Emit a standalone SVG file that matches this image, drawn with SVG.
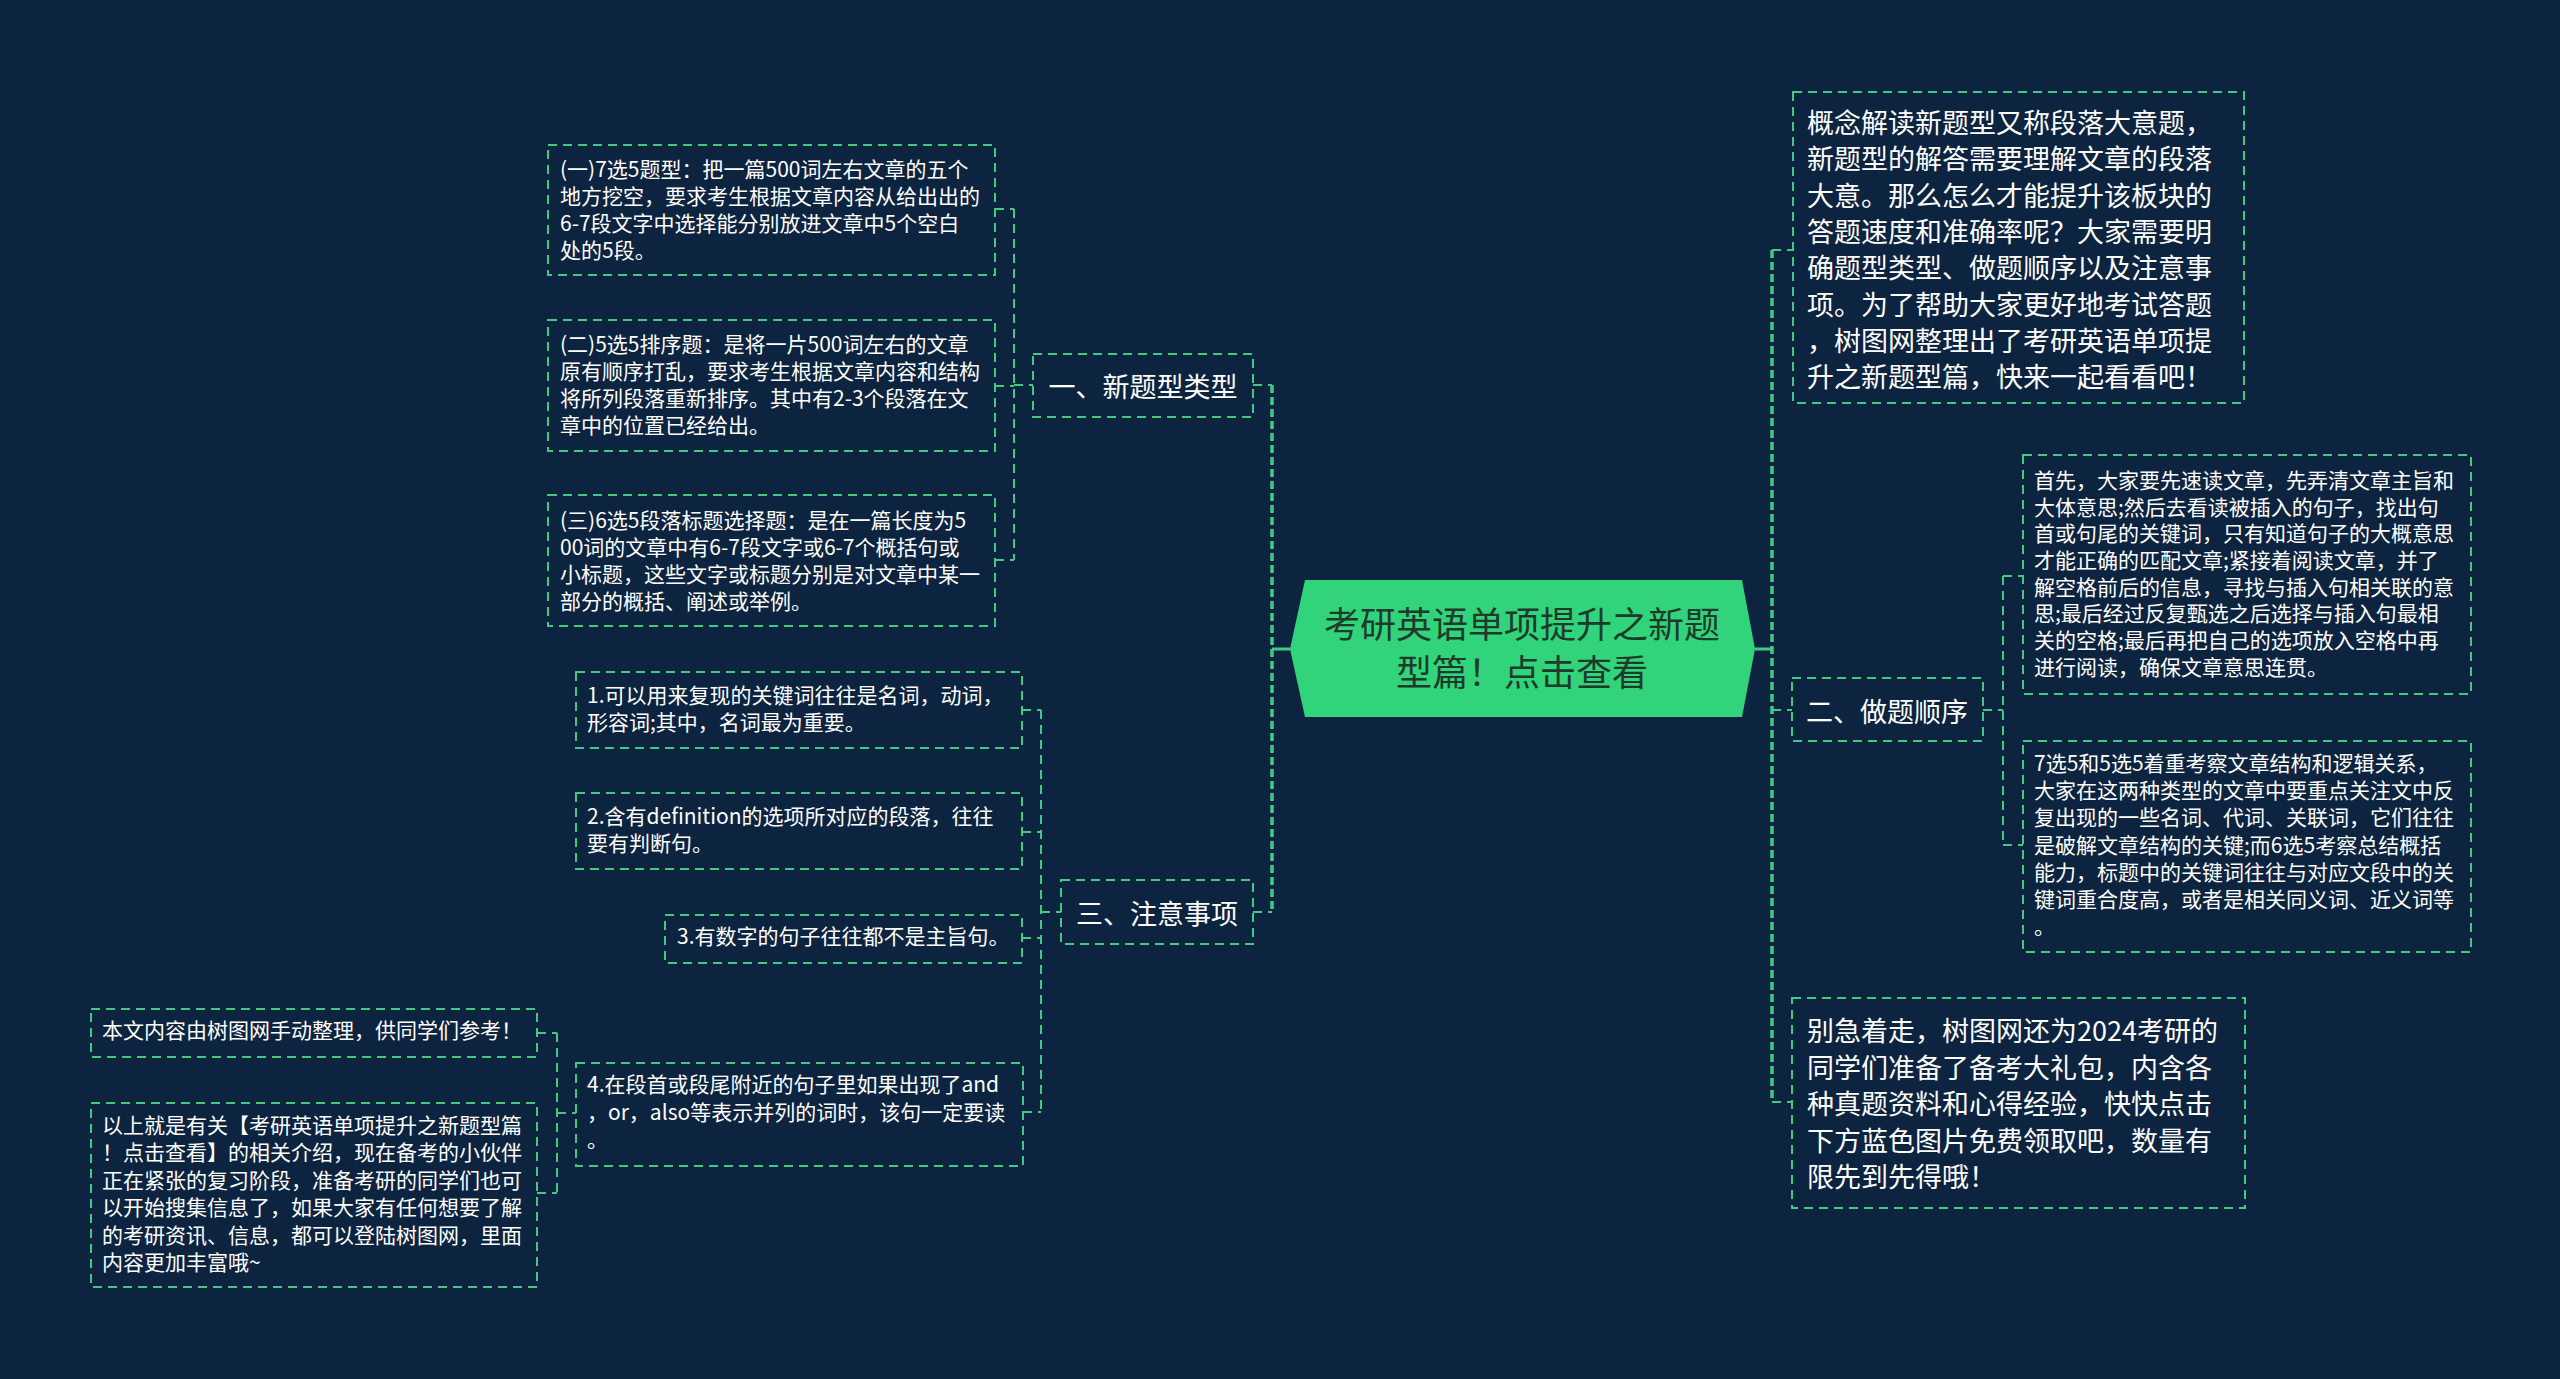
<svg xmlns="http://www.w3.org/2000/svg" width="2560" height="1379" viewBox="0 0 2560 1379">
<style>
  .bg { fill: #0d2441; }
  .box { fill: none; stroke: #3ecb80; stroke-width: 2; stroke-dasharray: 9 6; }
  .trunk { fill: none; stroke: #3ecb80; stroke-width: 3.5; stroke-dasharray: 8 4; }
  .sub { fill: none; stroke: #3ecb80; stroke-width: 2; stroke-dasharray: 9 6; }
  .solid { fill: none; stroke: #3ecb80; stroke-width: 3; }
  .t { font-family: "Noto Sans CJK SC", "Noto Sans", sans-serif; fill: #ffffff; dominant-baseline: central; transform: translate(0px, -4px); }
  .s { font-size: 21px; }
  .m { font-size: 27px; }
  .title { font-family: "Noto Sans CJK SC", "Noto Sans", sans-serif; font-size: 36px; fill: #1d3a2b; dominant-baseline: central; text-anchor: middle; transform: translate(0px, -3px); }
  .t.lab { font-size: 27px; text-anchor: middle; transform: none; }
</style>
<rect class="bg" x="0" y="0" width="2560" height="1379"/>

<g id="connectors">
  <path class="solid" d="M1290,649 H1272"/>
  <path class="trunk" d="M1272,385 V912"/>
  <path class="sub" d="M1253,385 H1272"/>
  <path class="sub" d="M1253,912 H1272"/>
  <path class="solid" d="M1755,649 H1772"/>
  <path class="trunk" d="M1772,250 V1102"/>
  <path class="sub" d="M1772,250 H1792"/>
  <path class="sub" d="M1772,710 H1792"/>
  <path class="sub" d="M1772,1102 H1792"/>
  <path class="sub" d="M1014,209 V560"/>
  <path class="sub" d="M995,209 H1014"/>
  <path class="sub" d="M995,386 H1014"/>
  <path class="sub" d="M995,560 H1014"/>
  <path class="sub" d="M1014,385 H1033"/>
  <path class="sub" d="M1041,710 V1112"/>
  <path class="sub" d="M1022,710 H1041"/>
  <path class="sub" d="M1022,832 H1041"/>
  <path class="sub" d="M1022,938 H1041"/>
  <path class="sub" d="M1023,1112 H1041"/>
  <path class="sub" d="M1041,912 H1061"/>
  <path class="sub" d="M557,1033 V1193"/>
  <path class="sub" d="M537,1033 H557"/>
  <path class="sub" d="M537,1193 H557"/>
  <path class="sub" d="M557,1113 H576"/>
  <path class="sub" d="M2003,576 V845"/>
  <path class="sub" d="M1983,710 H2003"/>
  <path class="sub" d="M2003,576 H2023"/>
  <path class="sub" d="M2003,845 H2023"/>
</g>

<g id="center">
  <polygon points="1305,580 1742,580 1755,649 1742,717 1305,717 1290,649" fill="#31d37b"/>
  <text class="title"><tspan x="1522" y="625">考研英语单项提升之新题</tspan><tspan x="1522" y="673">型篇！点击查看</tspan></text>
</g>

<g id="b1">
  <rect class="box" x="1033" y="354" width="220" height="63"/>
  <text class="t lab" x="1143" y="385">一、新题型类型</text>
</g>
<g id="b1c1">
  <rect class="box" x="548" y="145" width="447" height="130"/>
  <text class="t s"><tspan x="560" y="172">(一)7选5题型：把一篇500词左右文章的五个</tspan><tspan x="560" y="199">地方挖空，要求考生根据文章内容从给出出的</tspan><tspan x="560" y="226">6-7段文字中选择能分别放进文章中5个空白</tspan><tspan x="560" y="253">处的5段。</tspan></text>
</g>
<g id="b1c2">
  <rect class="box" x="548" y="320" width="447" height="131"/>
  <text class="t s"><tspan x="560" y="347">(二)5选5排序题：是将一片500词左右的文章</tspan><tspan x="560" y="374">原有顺序打乱，要求考生根据文章内容和结构</tspan><tspan x="560" y="401">将所列段落重新排序。其中有2-3个段落在文</tspan><tspan x="560" y="428">章中的位置已经给出。</tspan></text>
</g>
<g id="b1c3">
  <rect class="box" x="548" y="495" width="447" height="131"/>
  <text class="t s"><tspan x="560" y="523">(三)6选5段落标题选择题：是在一篇长度为5</tspan><tspan x="560" y="550">00词的文章中有6-7段文字或6-7个概括句或</tspan><tspan x="560" y="577">小标题，这些文字或标题分别是对文章中某一</tspan><tspan x="560" y="604">部分的概括、阐述或举例。</tspan></text>
</g>

<g id="b3">
  <rect class="box" x="1061" y="880" width="192" height="64"/>
  <text class="t lab" x="1157" y="912">三、注意事项</text>
</g>
<g id="b3c1">
  <rect class="box" x="576" y="672" width="446" height="76"/>
  <text class="t s"><tspan x="587" y="698">1.可以用来复现的关键词往往是名词，动词，</tspan><tspan x="587" y="725">形容词;其中，名词最为重要。</tspan></text>
</g>
<g id="b3c2">
  <rect class="box" x="576" y="793" width="446" height="76"/>
  <text class="t s"><tspan x="587" y="819">2.含有definition的选项所对应的段落，往往</tspan><tspan x="587" y="846">要有判断句。</tspan></text>
</g>
<g id="b3c3">
  <rect class="box" x="665" y="915" width="357" height="48"/>
  <text class="t s" x="677" y="939">3.有数字的句子往往都不是主旨句。</text>
</g>
<g id="b3c4">
  <rect class="box" x="576" y="1063" width="447" height="103"/>
  <text class="t s"><tspan x="587" y="1087">4.在段首或段尾附近的句子里如果出现了and</tspan><tspan x="587" y="1115">，or，also等表示并列的词时，该句一定要读</tspan><tspan x="587" y="1142">。</tspan></text>
</g>
<g id="b3c4a">
  <rect class="box" x="91" y="1009" width="446" height="48"/>
  <text class="t s" x="102" y="1033">本文内容由树图网手动整理，供同学们参考！</text>
</g>
<g id="b3c4b">
  <rect class="box" x="91" y="1103" width="446" height="184"/>
  <text class="t s"><tspan x="102" y="1128">以上就是有关【考研英语单项提升之新题型篇</tspan><tspan x="102" y="1155">！点击查看】的相关介绍，现在备考的小伙伴</tspan><tspan x="102" y="1183">正在紧张的复习阶段，准备考研的同学们也可</tspan><tspan x="102" y="1210">以开始搜集信息了，如果大家有任何想要了解</tspan><tspan x="102" y="1238">的考研资讯、信息，都可以登陆树图网，里面</tspan><tspan x="102" y="1265">内容更加丰富哦~</tspan></text>
</g>

<g id="r1">
  <rect class="box" x="1793" y="92" width="451" height="311"/>
  <text class="t m"><tspan x="1807" y="125">概念解读新题型又称段落大意题，</tspan><tspan x="1807" y="161">新题型的解答需要理解文章的段落</tspan><tspan x="1807" y="198">大意。那么怎么才能提升该板块的</tspan><tspan x="1807" y="234">答题速度和准确率呢？大家需要明</tspan><tspan x="1807" y="270">确题型类型、做题顺序以及注意事</tspan><tspan x="1807" y="307">项。为了帮助大家更好地考试答题</tspan><tspan x="1807" y="343">，树图网整理出了考研英语单项提</tspan><tspan x="1807" y="379">升之新题型篇，快来一起看看吧！</tspan></text>
</g>

<g id="b2">
  <rect class="box" x="1792" y="678" width="191" height="63"/>
  <text class="t lab" x="1887" y="710">二、做题顺序</text>
</g>
<g id="b2c1">
  <rect class="box" x="2023" y="455" width="448" height="239"/>
  <text class="t s"><tspan x="2034" y="483">首先，大家要先速读文章，先弄清文章主旨和</tspan><tspan x="2034" y="510">大体意思;然后去看读被插入的句子，找出句</tspan><tspan x="2034" y="536">首或句尾的关键词，只有知道句子的大概意思</tspan><tspan x="2034" y="563">才能正确的匹配文章;紧接着阅读文章，并了</tspan><tspan x="2034" y="590">解空格前后的信息，寻找与插入句相关联的意</tspan><tspan x="2034" y="616">思;最后经过反复甄选之后选择与插入句最相</tspan><tspan x="2034" y="643">关的空格;最后再把自己的选项放入空格中再</tspan><tspan x="2034" y="670">进行阅读，确保文章意思连贯。</tspan></text>
</g>
<g id="b2c2">
  <rect class="box" x="2023" y="741" width="448" height="211"/>
  <text class="t s"><tspan x="2034" y="766">7选5和5选5着重考察文章结构和逻辑关系，</tspan><tspan x="2034" y="793">大家在这两种类型的文章中要重点关注文中反</tspan><tspan x="2034" y="820">复出现的一些名词、代词、关联词，它们往往</tspan><tspan x="2034" y="848">是破解文章结构的关键;而6选5考察总结概括</tspan><tspan x="2034" y="875">能力，标题中的关键词往往与对应文段中的关</tspan><tspan x="2034" y="902">键词重合度高，或者是相关同义词、近义词等</tspan><tspan x="2034" y="929">。</tspan></text>
</g>

<g id="r3">
  <rect class="box" x="1792" y="998" width="453" height="210"/>
  <text class="t m"><tspan x="1807" y="1033">别急着走，树图网还为2024考研的</tspan><tspan x="1807" y="1070">同学们准备了备考大礼包，内含各</tspan><tspan x="1807" y="1106">种真题资料和心得经验，快快点击</tspan><tspan x="1807" y="1143">下方蓝色图片免费领取吧，数量有</tspan><tspan x="1807" y="1179">限先到先得哦！</tspan></text>
</g>
</svg>
